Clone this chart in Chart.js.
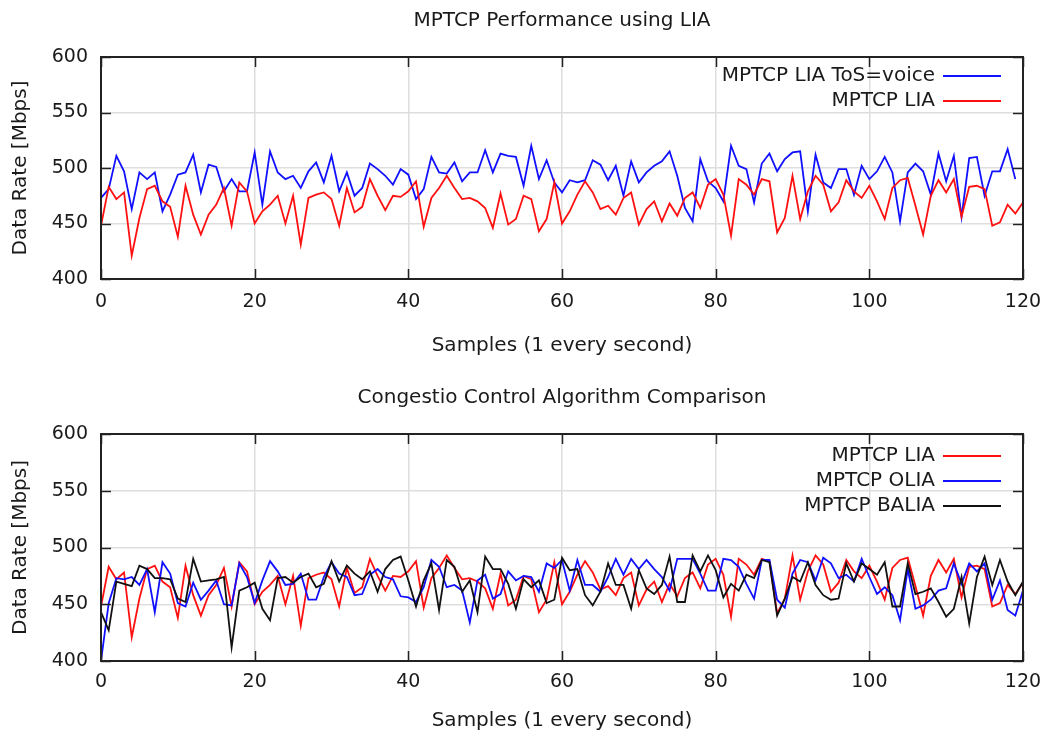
<!DOCTYPE html>
<html><head><meta charset="utf-8">
<script src="https://cdn.jsdelivr.net/npm/chart.js@4.4.1/dist/chart.umd.min.js"></script>
<style>
html,body{margin:0;padding:0;background:#fff;}
#wrap{position:relative;width:1049px;height:736px;overflow:hidden;}
.box{position:absolute;left:0;width:1049px;height:368px;}
</style></head><body>
<div id="wrap">
<div class="box" style="top:0"><canvas id="c1" width="1049" height="368"></canvas></div>
<div class="box" style="top:368px"><canvas id="c2" width="1049" height="368"></canvas></div>
</div>
<script>
// ---- data ----
const samples = [0,1,2,3,4,5,6,7,8,9,10,11,12,13,14,15,16,17,18,19,20,21,22,23,24,25,26,27,28,29,30,31,32,33,34,35,36,37,38,39,40,41,42,43,44,45,46,47,48,49,50,51,52,53,54,55,56,57,58,59,60,61,62,63,64,65,66,67,68,69,70,71,72,73,74,75,76,77,78,79,80,81,82,83,84,85,86,87,88,89,90,91,92,93,94,95,96,97,98,99,100,101,102,103,104,105,106,107,108,109,110,111,112,113,114,115,116,117,118,119,120];
const xTicks = [0,20,40,60,80,100,120];
const yTicks = [400,450,500,550,600];

const liaVoice = [473,481,511,497,463,496,490,496,461,476,494,496,512,478,503,501,479,490,479,479,
  514,467,515,496,490,493,482,497,505,487,511,479,496,475,482,504,499,493,485,499,
  494,472,481,510,496,495,505,488,496,496,516,496,513,511,510,484,520,490,507,487,
  478,489,487,489,507,503,489,502,475,506,487,496,502,506,515,493,464,452,508,488,
  482,470,520,502,499,469,504,513,497,508,514,515,461,512,487,482,499,499,476,502,
  490,497,510,496,452,496,504,497,476,513,488,511,456,509,510,475,497,497,517,490];

const lia = [448,483,472,478,421,455,481,484,470,465,438,484,458,440,458,467,482,448,487,479,
  450,461,467,475,450,475,431,473,476,478,472,448,482,460,465,490,475,462,475,474,
  479,488,447,473,482,493,482,472,473,470,464,446,477,449,454,475,472,443,454,487,
  450,461,476,488,478,463,466,458,473,478,449,463,470,452,468,457,473,478,464,485,
  490,476,439,490,485,476,490,488,442,455,493,454,479,493,485,461,469,489,479,473,
  484,470,454,482,489,491,466,440,475,489,478,490,456,483,484,481,448,451,467,459,469];

const olia = [400,451,473,472,474,467,481,443,487,477,451,448,469,454,462,471,450,449,486,474,
  451,471,488,479,467,468,477,454,454,474,487,477,474,458,459,476,481,474,472,457,
  456,452,465,489,483,465,467,462,434,471,476,455,459,479,471,475,474,461,486,482,
  489,462,489,467,467,461,474,490,476,490,481,489,481,474,462,490,490,490,477,462,
  462,490,489,483,468,455,489,489,454,447,477,489,487,471,491,486,473,476,470,490,
  474,459,465,458,436,481,446,449,454,462,464,486,468,486,479,486,454,471,445,440,462];

const balia = [443,427,470,468,466,484,481,473,473,472,455,452,490,470,471,472,474,412,462,465,
  469,446,436,473,474,469,474,477,465,468,488,470,484,477,472,479,461,481,489,492,
  471,448,471,486,445,489,483,461,471,443,492,481,481,468,446,472,465,471,451,454,
  491,480,481,458,449,461,486,467,467,446,480,464,459,467,492,452,452,493,479,493,
  480,456,468,462,476,473,489,487,440,455,474,470,487,467,458,454,455,486,470,486,
  481,476,487,448,448,486,459,461,464,452,439,446,474,433,474,492,467,489,470,458,470];

// ---- styling helpers ----
const FONT = 'DejaVu Sans';
const TXT = '#1a1a1a';
const pts = arr => arr.map((v, i) => ({x: samples[i], y: v}));

const framePlugin = {
  id: 'frame',
  afterDatasetsDraw(chart) {
    const {ctx, chartArea: {left, right, top, bottom}, scales: {x, y}} = chart;
    ctx.save();
    ctx.strokeStyle = '#222';
    ctx.lineWidth = 1.5;
    ctx.beginPath();
    xTicks.forEach(v => {
      const px = Math.round(x.getPixelForValue(v)) + 0.5;
      ctx.moveTo(px, bottom); ctx.lineTo(px, bottom - 10);
      ctx.moveTo(px, top); ctx.lineTo(px, top + 10);
    });
    yTicks.forEach(v => {
      const py = Math.round(y.getPixelForValue(v)) + 0.5;
      ctx.moveTo(left, py); ctx.lineTo(left + 10, py);
      ctx.moveTo(right, py); ctx.lineTo(right - 10, py);
    });
    ctx.stroke();
    ctx.lineWidth = 2;
    ctx.strokeRect(left, top, right - left, bottom - top);
    ctx.restore();
  }
};

const keyPlugin = {
  id: 'key',
  afterDatasetsDraw(chart, args, opts) {
    const {ctx, chartArea: {left, right, top}} = chart;
    ctx.save();
    // plot title, centred over the plot area
    ctx.font = '20px "' + FONT + '"';
    ctx.fillStyle = TXT;
    ctx.textAlign = 'center';
    ctx.textBaseline = 'middle';
    ctx.fillText(opts.title, (left + right) / 2, opts.titleY);
    // key
    ctx.textAlign = 'right';
    chart.data.datasets.forEach((ds, i) => {
      const yy = top + opts.first + i * 25;
      ctx.fillStyle = TXT;
      ctx.fillText(ds.label, right - 88, yy);
      ctx.strokeStyle = ds.borderColor;
      ctx.lineWidth = 1.8;
      ctx.beginPath();
      ctx.moveTo(right - 80, yy); ctx.lineTo(right - 22, yy);
      ctx.stroke();
    });
    ctx.restore();
  }
};

function opts(c) {
  return {
    responsive: false,
    animation: false,
    devicePixelRatio: 1,
    layout: {padding: {left: 0, right: 26, top: c.top, bottom: 0}},
    plugins: {
      legend: {display: false},
      tooltip: {enabled: false},
      title: {display: false},
      key: {first: c.keyFirst, title: c.title, titleY: c.titleY}
    },
    elements: {point: {radius: 0}, line: {borderWidth: 1.8, tension: 0}},
    scales: {
      x: {
        type: 'linear', min: 0, max: 120,
        afterBuildTicks: s => { s.ticks = xTicks.map(v => ({value: v})); },
        afterFit: s => { s.height = c.xh; s.paddingLeft = 0; s.paddingRight = 0; },
        ticks: {color: TXT, font: {family: FONT, size: 19}, padding: c.xtp, maxRotation: 0},
        grid: {color: '#dedede', lineWidth: 1.5, drawTicks: false},
        border: {display: false},
        title: {display: true, text: 'Samples (1 every second)', color: TXT,
          font: {family: FONT, size: 20}, padding: {top: 0, bottom: c.xtb}}
      },
      y: {
        min: 400, max: 600,
        afterBuildTicks: s => { s.ticks = yTicks.map(v => ({value: v})); },
        afterFit: s => { s.width = 101; },
        ticks: {color: TXT, font: {family: FONT, size: 19}, padding: 13},
        grid: {color: '#dedede', lineWidth: 1.5, drawTicks: false},
        border: {display: false},
        title: {display: true, text: 'Data Rate [Mbps]', color: TXT,
          font: {family: FONT, size: 20}, padding: {top: 9, bottom: 0}}
      }
    }
  };
}

new Chart(document.getElementById('c1'), {
  type: 'line',
  data: {datasets: [
    {label: 'MPTCP LIA ToS=voice', data: pts(liaVoice), borderColor: '#1010ff', order: 1},
    {label: 'MPTCP LIA', data: pts(lia), borderColor: '#ff1010', order: 0}
  ]},
  options: opts({title: 'MPTCP Performance using LIA', titleY: 21, top: 57, xh: 89, xtp: 12, xtb: 10, keyFirst: 19}),
  plugins: [framePlugin, keyPlugin]
});

new Chart(document.getElementById('c2'), {
  type: 'line',
  data: {datasets: [
    {label: 'MPTCP LIA', data: pts(lia), borderColor: '#ff1010', order: 2},
    {label: 'MPTCP OLIA', data: pts(olia), borderColor: '#1010ff', order: 1},
    {label: 'MPTCP BALIA', data: pts(balia), borderColor: '#111111', order: 0}
  ]},
  options: opts({title: 'Congestio Control Algorithm Comparison', titleY: 30, top: 66, xh: 75, xtp: 10, xtb: 3, keyFirst: 22}),
  plugins: [framePlugin, keyPlugin]
});
</script>
</body></html>
